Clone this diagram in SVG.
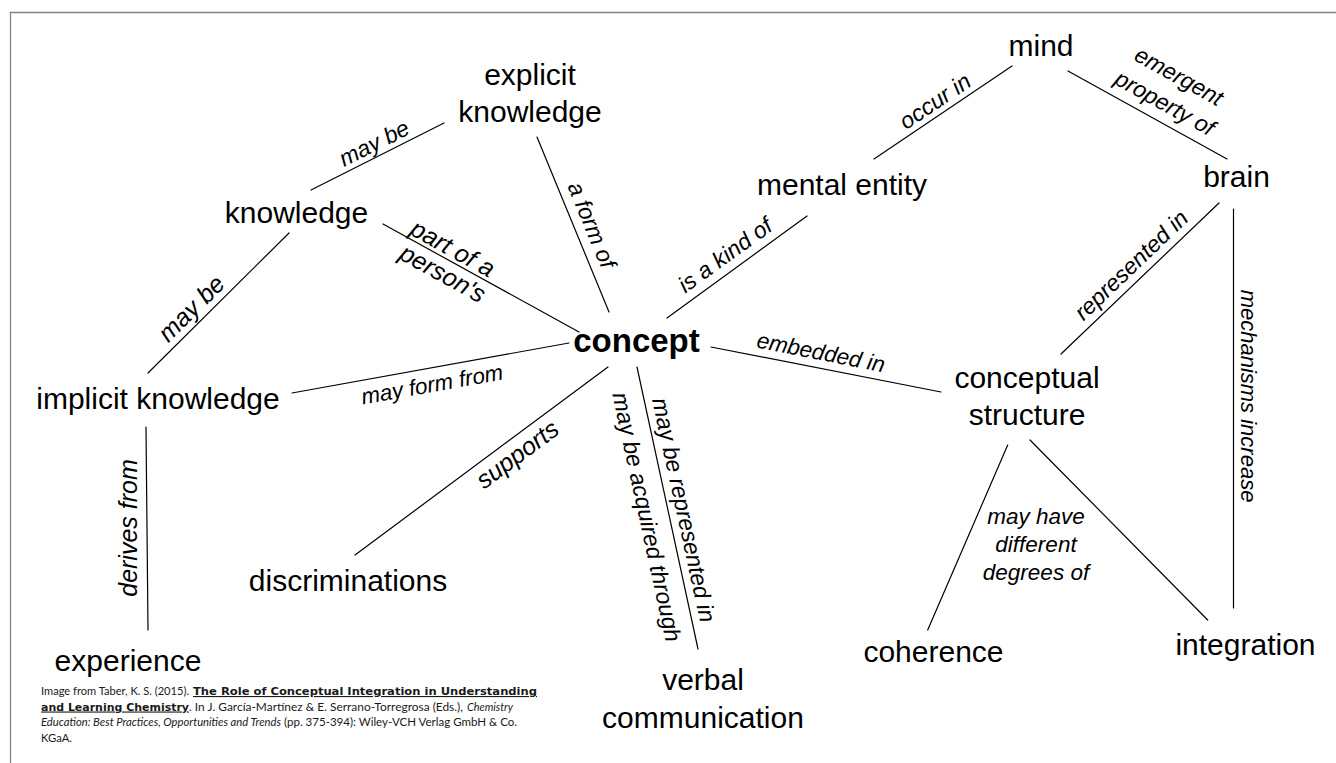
<svg xmlns="http://www.w3.org/2000/svg" width="1336" height="763" viewBox="0 0 1336 763">
  <style>
    .node{font-family:"Liberation Sans",Arial,Helvetica,sans-serif;font-size:30px;fill:#000;text-anchor:middle}
    .hub{font-weight:bold;font-size:33px}
    .lbl{font-family:"Liberation Sans",Arial,Helvetica,sans-serif;font-style:italic;font-size:23px;fill:#000;text-anchor:middle}
    .big{font-size:25px}
    .edge{stroke:#000;stroke-width:1.2;fill:none;stroke-linecap:round}
    .frame{stroke:#858585;stroke-width:1.3;fill:none}
    .cite{font-family:Lato,"Liberation Sans",sans-serif;font-size:12px;fill:#1a1a1a}
    .citeb{font-family:"DejaVu Sans",Verdana,sans-serif;font-weight:bold;font-size:11px;fill:#1a1a1a;text-decoration:underline}
    .citei{font-style:italic}
  </style>
  <rect width="1336" height="763" fill="#fff"/>

  <!-- slide frame -->
  <path class="frame" d="M10.5 763 V12.5 H1336"/>

  <!-- connectors with their link phrases -->
  <g id="connectors">
    <line class="edge" x1="311" y1="190" x2="444" y2="123"/>
    <text class="lbl" transform="translate(374,143) rotate(-26.7)" y="8">may be</text>

    <line class="edge" x1="148" y1="373" x2="289" y2="233"/>
    <text class="lbl big" transform="translate(191,308) rotate(-44.8)" y="9">may be</text>

    <line class="edge" x1="383" y1="224" x2="579" y2="332"/>
    <text class="lbl big" transform="translate(453,248) rotate(28.9)" y="9">part of a</text>
    <text class="lbl big" transform="translate(443,273) rotate(28.9)" y="9">person's</text>

    <line class="edge" x1="537" y1="137" x2="609" y2="312"/>
    <text class="lbl" transform="translate(592,225) rotate(67.6)" y="8">a form of</text>

    <line class="edge" x1="667" y1="318" x2="807" y2="216"/>
    <text class="lbl" transform="translate(725,255) rotate(-36)" y="8">is a kind of</text>

    <line class="edge" x1="874" y1="159" x2="1012" y2="66"/>
    <text class="lbl" transform="translate(935,101) rotate(-34)" y="8">occur in</text>

    <line class="edge" x1="1068" y1="71" x2="1227" y2="159"/>
    <text class="lbl" transform="translate(1179,76) rotate(29)" y="8">emergent</text>
    <text class="lbl" transform="translate(1165,103) rotate(29)" y="8">property of</text>

    <line class="edge" x1="1219" y1="203" x2="1061" y2="354"/>
    <text class="lbl" transform="translate(1131,265) rotate(-43.7)" y="8">represented in</text>

    <line class="edge" x1="1233.5" y1="209" x2="1233.5" y2="608"/>
    <text class="lbl" transform="translate(1249,396) rotate(90)" y="8" style="font-size:22px">mechanisms increase</text>

    <line class="edge" x1="711" y1="347" x2="941" y2="392"/>
    <text class="lbl" transform="translate(821,352) rotate(11.1)" y="8" style="font-size:22.5px">embedded in</text>

    <line class="edge" x1="637" y1="367" x2="698" y2="649"/>
    <text class="lbl" transform="translate(684,510) rotate(77.8)" y="8">may be represented in</text>
    <text class="lbl" transform="translate(647,517) rotate(77.8)" y="8">may be acquired through</text>

    <line class="edge" x1="292" y1="393" x2="569" y2="343"/>
    <text class="lbl" transform="translate(432,384) rotate(-10.2)" y="8" style="font-size:22.3px">may form from</text>

    <line class="edge" x1="355" y1="555" x2="608" y2="367"/>
    <text class="lbl big" transform="translate(517,454) rotate(-36.6)" y="9">supports</text>

    <line class="edge" x1="146" y1="427" x2="148" y2="630"/>
    <text class="lbl big" transform="translate(128,528) rotate(-90)" y="9">derives from</text>

    <line class="edge" x1="1007.7" y1="445" x2="927.7" y2="630"/>
    <line class="edge" x1="1030" y1="440" x2="1207.7" y2="620"/>
    <text class="lbl" style="font-size:22.5px" x="1036" y="524">may have</text>
    <text class="lbl" style="font-size:22.5px" x="1036" y="552">different</text>
    <text class="lbl" style="font-size:22.5px" x="1036" y="580">degrees of</text>
  </g>

  <!-- concept nodes -->
  <g id="node-explicit-knowledge"><text class="node" x="530" y="85">explicit</text><text class="node" x="530" y="122">knowledge</text></g>
  <g id="node-knowledge"><text class="node" x="296.5" y="223">knowledge</text></g>
  <g id="node-mental-entity"><text class="node" x="842" y="195">mental entity</text></g>
  <g id="node-mind"><text class="node" x="1041" y="56">mind</text></g>
  <g id="node-brain"><text class="node" x="1236.5" y="187">brain</text></g>
  <g id="node-concept"><text class="node hub" x="636.5" y="352">concept</text></g>
  <g id="node-implicit-knowledge"><text class="node" x="158" y="409">implicit knowledge</text></g>
  <g id="node-discriminations"><text class="node" x="348" y="591">discriminations</text></g>
  <g id="node-experience"><text class="node" x="128" y="671">experience</text></g>
  <g id="node-verbal-communication"><text class="node" x="703" y="690">verbal</text><text class="node" x="703" y="728">communication</text></g>
  <g id="node-conceptual-structure"><text class="node" x="1027" y="388">conceptual</text><text class="node" x="1027" y="425">structure</text></g>
  <g id="node-coherence"><text class="node" x="933.5" y="662">coherence</text></g>
  <g id="node-integration"><text class="node" x="1245.5" y="655">integration</text></g>

  <!-- source credit -->
  <g id="credit">
    <text class="cite" x="41" y="695" textLength="148" lengthAdjust="spacingAndGlyphs">Image from Taber, K. S. (2015).</text>
    <text class="citeb" x="193" y="695" textLength="344" lengthAdjust="spacingAndGlyphs">The Role of Conceptual Integration in Understanding</text>
    <text class="citeb" x="41" y="710.5" textLength="148" lengthAdjust="spacingAndGlyphs">and Learning Chemistry</text>
    <text class="cite" x="189" y="710.5" textLength="274" lengthAdjust="spacingAndGlyphs">. In J. García-Martínez &amp; E. Serrano-Torregrosa (Eds.),</text>
    <text class="cite citei" x="467" y="710.5" textLength="46" lengthAdjust="spacingAndGlyphs">Chemistry</text>
    <text class="cite citei" x="41" y="726" textLength="240" lengthAdjust="spacingAndGlyphs">Education: Best Practices, Opportunities and Trends</text>
    <text class="cite" x="284" y="726" textLength="233" lengthAdjust="spacingAndGlyphs">(pp. 375-394): Wiley-VCH Verlag GmbH &amp; Co.</text>
    <text class="cite" x="41" y="741.5" textLength="31" lengthAdjust="spacingAndGlyphs">KGaA.</text>
  </g>
</svg>
